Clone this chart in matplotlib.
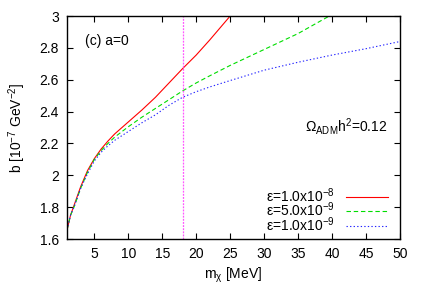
import numpy as np
import matplotlib
matplotlib.use("Agg")
from matplotlib import pyplot as plt

plt.rcParams['font.family'] = ['Liberation Sans', 'DejaVu Sans']
plt.rcParams['mathtext.fontset'] = 'custom'
plt.rcParams['mathtext.rm'] = 'Liberation Sans'
plt.rcParams['mathtext.it'] = 'Liberation Sans:italic'
plt.rcParams['mathtext.default'] = 'regular'

# m_chi [MeV] and b [1e-7 GeV^-2]
m_red = [1, 1.5, 2, 3, 4, 5, 6, 7, 8, 10, 12, 14, 16, 18, 20, 22, 24, 25]
b_red = [1.66, 1.75, 1.81, 1.93, 2.03, 2.105, 2.165, 2.215, 2.26, 2.335, 2.41, 2.49, 2.58, 2.67, 2.755, 2.85, 2.95, 3.0]

m_green = [1, 1.5, 2, 3, 4, 5, 6, 7, 8, 10, 12, 14, 16, 18, 20, 22, 25, 30, 35, 39.6]
b_green = [1.66, 1.75, 1.80, 1.92, 2.02, 2.10, 2.155, 2.20, 2.24, 2.305, 2.365, 2.42, 2.475, 2.53, 2.58, 2.625, 2.69, 2.79, 2.89, 3.0]

m_blue = [1, 1.5, 2, 3, 4, 5, 6, 7, 8, 10, 12, 14, 16, 18, 20, 22, 25, 30, 35, 40, 45, 50]
b_blue = [1.66, 1.75, 1.80, 1.92, 2.01, 2.09, 2.145, 2.185, 2.22, 2.275, 2.33, 2.38, 2.44, 2.49, 2.525, 2.555, 2.595, 2.66, 2.71, 2.755, 2.795, 2.84]

labels = [r'ε=1.0x10$^{-8}$', r'ε=5.0x10$^{-9}$', r'ε=1.0x10$^{-9}$']
m_line = 18

fig = plt.figure(figsize=(4.25, 2.97), dpi=100)
ax = fig.add_axes([0.158, 0.195, 0.783, 0.751])

ax.plot(m_red, b_red, color='#ff0000', lw=0.8, ls='-', label=labels[0])
ax.plot(m_green, b_green, color='#00dd00', lw=0.8, ls=(0, (4, 2.5)), label=labels[1])
ax.plot(m_blue, b_blue, color='#2222ff', lw=0.8, ls=(0, (1.2, 2)), label=labels[2])
ax.axvline(m_line, color='#ff55ff', lw=0.9, ls=(0, (1.5, 1)))

ax.set_xlim(1, 50)
ax.set_ylim(1.6, 3.0)
ax.set_xticks(np.arange(5, 51, 5))
ax.set_yticks(np.arange(1.6, 3.01, 0.2))
ax.set_yticklabels(['1.6', '1.8', '2', '2.2', '2.4', '2.6', '2.8', '3'])
ax.tick_params(direction='in', top=True, right=True, length=4, width=0.8, labelsize=10, pad=6)
for s in ax.spines.values():
    s.set_linewidth(1.0)

ax.set_xlabel(r'm$_\chi$ [MeV]', fontsize=10, labelpad=3)
ax.set_ylabel(r'b [10$^{-7}$ GeV$^{-2}$]', fontsize=10, labelpad=8)

ax.text(0.055, 0.89, '(c) a=0', transform=ax.transAxes, fontsize=10, va='center', ha='left')
ax.text(0.963, 0.505, r'$\Omega_{ADM}$h$^2$=0.12', transform=ax.transAxes, fontsize=10, va='center', ha='right')

ax.legend(loc='lower right', bbox_to_anchor=(0.98, 0.0), frameon=False, markerfirst=False,
          fontsize=10, handlelength=3.0, handletextpad=0.8, labelspacing=-0.3, borderaxespad=0.0)

plt.savefig('out.png', dpi=100)
